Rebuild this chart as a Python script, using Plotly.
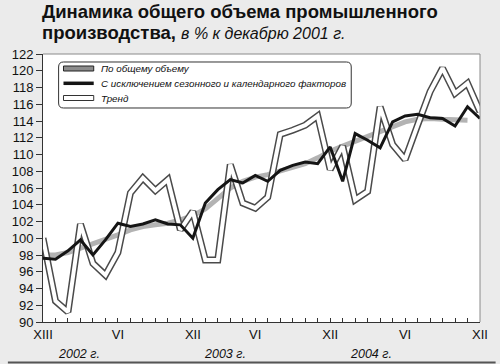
import plotly.graph_objects as go

# ---- data ----
months = list(range(36))  # Dec 2001 .. Dec 2004 (chart's own 36-step axis)
total_volume = [100.0, 92.5, 91.2, 101.7, 97.0, 95.6, 98.3, 105.4, 107.2, 105.7,
                107.0, 101.0, 103.2, 97.4, 97.4, 108.8, 104.2, 103.6, 104.9, 112.4,
                112.9, 113.5, 114.6, 108.2, 111.0, 104.6, 105.6, 115.7, 111.2, 109.4,
                113.5, 117.5, 120.3, 117.3, 118.5, 115.1]
seasonal_adj = [97.6, 97.5, 98.5, 99.8, 98.0, 99.8, 101.8, 101.4, 101.7, 102.2,
                101.7, 101.6, 100.0, 104.2, 105.8, 107.0, 106.6, 107.5, 106.8, 108.1,
                108.7, 109.1, 108.9, 110.9, 106.8, 112.5, 111.7, 110.8, 113.9, 114.6,
                114.8, 114.4, 114.3, 113.4, 115.7, 114.3]
trend_idx = list(range(35))
trend = [98.0, 98.0, 98.3, 98.8, 99.3, 99.8, 100.4, 101.0, 101.4, 101.6,
         101.8, 102.2, 102.7, 103.5, 104.8, 106.0, 106.8, 107.3, 107.6, 108.0,
         108.4, 108.9, 109.6, 110.4, 111.0, 111.6, 112.2, 112.8, 113.4, 113.9,
         114.2, 114.3, 114.2, 114.1, 114.1]

month_label_pos = [0, 6, 12, 17, 23, 29, 35]
month_labels = ["XIII", "VI", "XII", "VI", "XII", "VI", "XII"]
year_pos = [2.9, 14.6, 26.3]
year_labels = ["2002 г.", "2003 г.", "2004 г."]
y_ticks = list(range(90, 123, 2))

legend_labels = ["По общему объему",
                 "С исключением сезонного и календарного факторов",
                 "Тренд"]

W, H = 500, 364
L, R, T, B = 36, 16, 54, 42
PW, PH = W - L - R, H - T - B

def px(xp):
    return (xp - L) / PW

def py(yp):
    return (H - B - yp) / PH

SANS = "Liberation Sans, Arial, sans-serif"

fig = go.Figure()
fig.add_trace(go.Scatter(x=trend_idx, y=trend, mode="lines",
                         line=dict(color="#b3b3b3", width=5), showlegend=False))
fig.add_trace(go.Scatter(x=months, y=total_volume, mode="lines",
                         line=dict(color="#4a4a4a", width=7), showlegend=False))
fig.add_trace(go.Scatter(x=months, y=total_volume, mode="lines",
                         line=dict(color="#ffffff", width=4), showlegend=False))
fig.add_trace(go.Scatter(x=months, y=seasonal_adj, mode="lines",
                         line=dict(color="#151515", width=3), showlegend=False))

ticktext = []
for m in months:
    ticktext.append(month_labels[month_label_pos.index(m)] if m in month_label_pos else "")

shapes = []
shapes.append(dict(type="line", xref="paper", yref="paper", x0=0, x1=1, y0=1, y1=1,
                   line=dict(color="#8a8a8a", width=1)))
shapes.append(dict(type="line", xref="paper", yref="paper", x0=1, x1=1, y0=0, y1=1,
                   line=dict(color="#8a8a8a", width=1)))
shapes.append(dict(type="line", xref="paper", yref="paper", x0=px(0), x1=px(W),
                   y0=py(362.5), y1=py(362.5), line=dict(color="#555555", width=2)))

bx0, bx1, by0, by1, r = 52, 352, 62, 108, 5
def P(xp, yp):
    return f"{px(xp):.5f},{py(yp):.5f}"
path = (f"M {P(bx0+r, by0)} L {P(bx1-r, by0)} Q {P(bx1, by0)} {P(bx1, by0+r)} "
        f"L {P(bx1, by1-r)} Q {P(bx1, by1)} {P(bx1-r, by1)} L {P(bx0+r, by1)} "
        f"Q {P(bx0, by1)} {P(bx0, by1-r)} L {P(bx0, by0+r)} Q {P(bx0, by0)} {P(bx0+r, by0)} Z")
shapes.append(dict(type="path", xref="paper", yref="paper", path=path,
                   fillcolor="white", line=dict(color="#333333", width=1)))
rows = [68.5, 83.3, 98.0]
shapes.append(dict(type="rect", xref="paper", yref="paper", x0=px(57), x1=px(88),
                   y0=py(rows[0] - 2.5), y1=py(rows[0] + 2.5),
                   fillcolor="#8c8c8c", line=dict(color="#222222", width=1)))
shapes.append(dict(type="line", xref="paper", yref="paper", x0=px(57), x1=px(88),
                   y0=py(rows[1]), y1=py(rows[1]), line=dict(color="#151515", width=3.5)))
shapes.append(dict(type="rect", xref="paper", yref="paper", x0=px(57), x1=px(88),
                   y0=py(rows[2] - 2.5), y1=py(rows[2] + 2.5),
                   fillcolor="#ffffff", line=dict(color="#333333", width=1)))

annotations = []
for lab, ry in zip(legend_labels, rows):
    annotations.append(dict(text=f"<i>{lab}</i>", xref="paper", yref="paper",
                            x=px(93), y=py(ry), xanchor="left", yanchor="middle",
                            showarrow=False, font=dict(family=SANS, size=9.8, color="#111")))
for yp, yl in zip(year_pos, year_labels):
    annotations.append(dict(text=f"<i>{yl}</i>", xref="x", yref="paper", x=yp, y=py(354),
                            xanchor="center", yanchor="middle", showarrow=False,
                            font=dict(family=SANS, size=12.5, color="#111")))
annotations.append(dict(text="<b>Динамика общего объема промышленного</b>",
                        xref="paper", yref="paper", x=px(33), y=py(11.5),
                        xanchor="left", yanchor="middle", showarrow=False,
                        font=dict(family=SANS, size=18.5, color="#111")))
annotations.append(dict(text="<b>производства,</b> <i><span style='font-size:16px'>в % к декабрю 2001 г.</span></i>",
                        xref="paper", yref="paper", x=px(33), y=py(33),
                        xanchor="left", yanchor="middle", showarrow=False,
                        font=dict(family=SANS, size=18.5, color="#111")))

fig.update_layout(
    width=W, height=H, margin=dict(l=L, r=R, t=T, b=B),
    paper_bgcolor="#ebebeb", plot_bgcolor="white",
    showlegend=False, shapes=shapes, annotations=annotations,
    xaxis=dict(range=[0, 35], tickvals=months, ticktext=ticktext, ticks="inside",
               ticklen=4, tickcolor="#333", showgrid=False, zeroline=False,
               showline=True, linecolor="#333", linewidth=1,
               tickfont=dict(family=SANS, size=13, color="#111")),
    yaxis=dict(range=[90, 122], tickvals=y_ticks, ticks="outside", ticklen=6,
               tickcolor="#333", showgrid=False, zeroline=False, showline=True,
               linecolor="#333", linewidth=1,
               tickfont=dict(family=SANS, size=13, color="#111")),
)

fig.write_html("out.html", config={"displayModeBar": False},
               post_script="document.body.style.margin='0';document.body.style.background='#ebebeb';")
